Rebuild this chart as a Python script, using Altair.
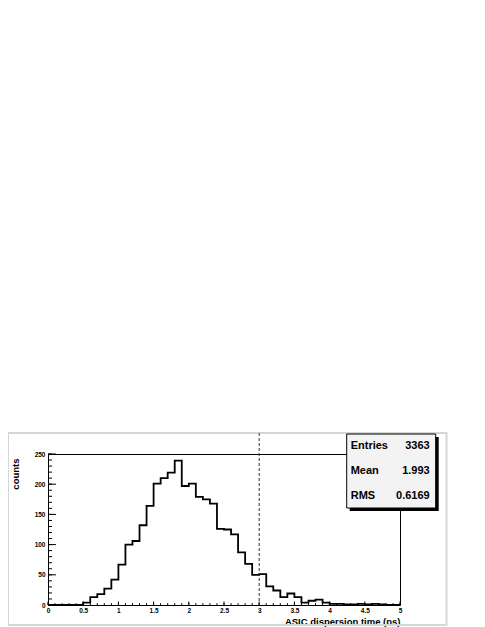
import altair as alt
import pandas as pd

# ---- data ----
bin_edges = [round(i * 0.1, 1) for i in range(51)]
counts = [0, 0, 0, 0, 0,
          4, 13, 18, 27, 42,
          67, 100, 106, 132, 164,
          201, 210, 219, 239, 197,
          201, 179, 175, 168, 126,
          125, 117, 87, 68, 50,
          51, 31, 24, 13, 19,
          13, 4, 7, 9, 4,
          2, 2, 1, 1, 2,
          1, 2, 1, 0, 0]
cut_value = [3.0]
x_label_values = [0, 0.5, 1, 1.5, 2, 2.5, 3, 3.5, 4, 4.5, 5]
x_minor_values = [round(i * 0.1, 1) for i in range(51)]
y_label_values = [0, 50, 100, 150, 200, 250]
y_minor_values = [i * 10 for i in range(26)]
stat_names = ["Entries", "Mean", "RMS"]
stat_values = ["3363", "1.993", "0.6169"]
x_title = "ASIC dispersion time (ns)"
y_title = "counts"

FONT = "Liberation Sans"
W, H = 352, 151

hist_df = pd.DataFrame({"x": bin_edges, "y": counts + [counts[-1]]})
xs = alt.Scale(domain=[0, 5], nice=False, zero=False)
ys = alt.Scale(domain=[0, 250], nice=False)

x_axis = alt.Axis(
    values=x_label_values, format="~g", tickSize=0, domain=False, grid=False,
    labelFont=FONT, labelFontWeight="bold", labelFontSize=6.5, labelPadding=2,
    labelFlush=False, labelOverlap=False, labelColor="black",
    title=x_title, titleFont=FONT, titleFontWeight="bold", titleFontSize=9.5,
    titleColor="black", titleX=W, titleY=16, titleAlign="right",
    titleBaseline="middle")
y_axis = alt.Axis(
    values=y_label_values, tickSize=0, domain=False, grid=False,
    labelFont=FONT, labelFontWeight="bold", labelFontSize=6.5, labelPadding=3,
    labelColor="black",
    title=y_title, titleFont=FONT, titleFontWeight="bold", titleFontSize=9.5,
    titleColor="black", titleX=-38, titleY=4, titleAngle=270,
    titleAlign="right", titleBaseline="top")


def X():
    return alt.X("x:Q", scale=xs, axis=x_axis, title=x_title)


def Y():
    return alt.Y("y:Q", scale=ys, axis=y_axis, title=y_title)


one = pd.DataFrame({"k": [0]})

canvas = alt.Chart(one).mark_rect(fillOpacity=0, stroke="#d6d6d6", strokeWidth=2).encode(
    x=alt.value(-40), x2=alt.value(398.5), y=alt.value(-21), y2=alt.value(171)
)

hist = alt.Chart(hist_df).mark_line(
    interpolate="step-after", color="black", strokeWidth=1.8
).encode(x=X(), y=Y())

ymaj = alt.Chart(pd.DataFrame({"y": y_label_values})).mark_rule(color="black", strokeWidth=1).encode(
    y=Y(), x=alt.value(0), x2=alt.value(8)
)
ymin = alt.Chart(pd.DataFrame({"y": y_minor_values})).mark_rule(color="black", strokeWidth=1).encode(
    y=Y(), x=alt.value(0), x2=alt.value(4)
)
xmaj = alt.Chart(pd.DataFrame({"x": x_label_values})).mark_rule(color="black", strokeWidth=1).encode(
    x=X(), y=alt.value(H), y2=alt.value(H - 3.5)
)
xmin = alt.Chart(pd.DataFrame({"x": x_minor_values})).mark_rule(color="black", strokeWidth=1).encode(
    x=X(), y=alt.value(H), y2=alt.value(H - 1.8)
)

cut = alt.Chart(pd.DataFrame({"x": cut_value})).mark_rule(
    color="#333333", strokeWidth=1, strokeDash=[3, 2]
).encode(x=X(), y=alt.value(-21), y2=alt.value(H))

bx0, bx1, by0, by1 = 298.7, 387.7, -20, 54
shadow = alt.Chart(one).mark_rect(color="black").encode(
    x=alt.value(bx0 + 3), x2=alt.value(bx1 + 3), y=alt.value(by0 + 3), y2=alt.value(by1 + 3)
)
box = alt.Chart(one).mark_rect(fill="#f3f3f3", stroke="black", strokeWidth=1).encode(
    x=alt.value(bx0), x2=alt.value(bx1), y=alt.value(by0), y2=alt.value(by1)
)

texts = []
for i, (nm, val) in enumerate(zip(stat_names, stat_values)):
    yy = -8 + 25 * i
    texts.append(alt.Chart(one).mark_text(
        text=nm, align="left", baseline="middle", font=FONT, fontWeight="bold",
        fontSize=11, color="black").encode(x=alt.value(bx0 + 4), y=alt.value(yy)))
    texts.append(alt.Chart(one).mark_text(
        text=val, align="right", baseline="middle", font=FONT, fontWeight="bold",
        fontSize=11, color="black").encode(x=alt.value(bx1 - 6), y=alt.value(yy)))

chart = alt.layer(canvas, hist, ymaj, ymin, xmaj, xmin, cut, shadow, box, *texts).properties(
    width=W, height=H,
    autosize=alt.AutoSizeParams(type="none"),
    padding={"left": 40, "top": 446, "right": 77, "bottom": 22},
).configure_view(stroke="black", strokeWidth=1)

chart.save("out.html", embed_options={"renderer": "svg", "actions": False})
